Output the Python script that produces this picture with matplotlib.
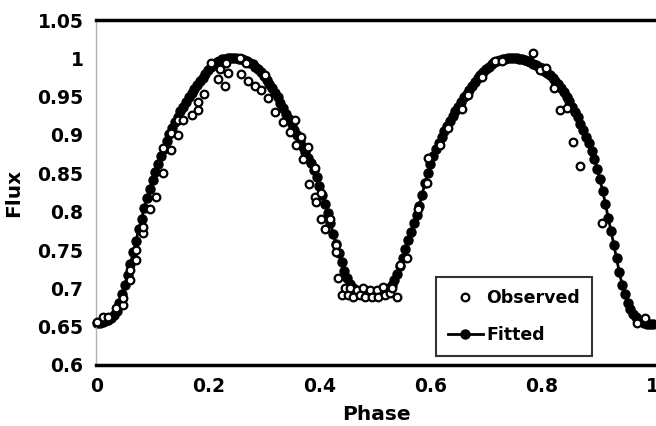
import numpy as np
import matplotlib
matplotlib.use("Agg")
import matplotlib.pyplot as plt

# fitted light curve, phase step 0.005 from 0 to 1
fit_step = 0.005
fit_flux = [
    0.655, 0.655, 0.656, 0.657, 0.659, 0.661, 0.665, 0.671, 0.681, 0.692,
    0.705, 0.718, 0.732, 0.747, 0.762, 0.777, 0.791, 0.805, 0.818, 0.830,
    0.841, 0.852, 0.862, 0.872, 0.882, 0.892, 0.901, 0.909, 0.917, 0.924,
    0.931, 0.937, 0.943, 0.949, 0.955, 0.960, 0.965, 0.970, 0.975, 0.980,
    0.985, 0.989, 0.993, 0.995, 0.997, 0.9985, 0.9995, 1.000, 1.000, 1.000,
    1.000, 0.9995, 0.999, 0.998, 0.996, 0.994, 0.992, 0.989, 0.986, 0.982,
    0.977, 0.972, 0.967, 0.961, 0.955, 0.949, 0.942, 0.935, 0.928, 0.921,
    0.914, 0.907, 0.900, 0.892, 0.885, 0.878, 0.870, 0.863, 0.855, 0.845,
    0.834, 0.822, 0.810, 0.798, 0.785, 0.771, 0.758, 0.746, 0.734, 0.722,
    0.713, 0.706, 0.701, 0.698, 0.696, 0.695, 0.694, 0.694, 0.694, 0.694,
    0.694, 0.694, 0.695, 0.696, 0.698, 0.701, 0.705, 0.711, 0.719, 0.729,
    0.740, 0.751, 0.763, 0.774, 0.785, 0.796, 0.808, 0.822, 0.837, 0.850,
    0.862, 0.872, 0.882, 0.890, 0.898, 0.905, 0.912, 0.918, 0.925, 0.931,
    0.937, 0.943, 0.949, 0.954, 0.959, 0.964, 0.969, 0.974, 0.978, 0.982,
    0.986, 0.989, 0.992, 0.995, 0.997, 0.998, 0.999, 0.9995, 1.000, 1.000,
    1.000, 1.000, 0.9995, 0.999, 0.998, 0.997, 0.995, 0.993, 0.991, 0.989,
    0.987, 0.984, 0.981, 0.978, 0.975, 0.971, 0.966, 0.961, 0.956, 0.950,
    0.944, 0.937, 0.930, 0.923, 0.915, 0.907, 0.898, 0.889, 0.879, 0.869,
    0.856, 0.842, 0.827, 0.810, 0.792, 0.775, 0.757, 0.739, 0.721, 0.705,
    0.692, 0.681, 0.673, 0.667, 0.662, 0.659, 0.657, 0.655, 0.654, 0.654,
    0.654,
]
fit_phase = np.arange(len(fit_flux)) * fit_step

obs_phase = [
    0.000, 0.011, 0.020, 0.0345, 0.0465, 0.0465, 0.0585, 0.0585, 0.0705, 0.0705,
    0.0825, 0.0825, 0.0945, 0.1065, 0.1185, 0.1185, 0.1335, 0.1335, 0.1455, 0.1455,
    0.155, 0.170, 0.181, 0.181, 0.193, 0.2055, 0.218, 0.2205, 0.2295, 0.2325,
    0.2355, 0.2565, 0.2595, 0.2685, 0.2715, 0.2835, 0.2955, 0.3015, 0.3075, 0.3205,
    0.334, 0.3465, 0.3555, 0.3585, 0.3675, 0.3705, 0.3795, 0.382, 0.3915, 0.3915,
    0.3945, 0.4035, 0.4035, 0.4095, 0.4185, 0.4305, 0.4305, 0.4335, 0.440, 0.4455,
    0.452, 0.4545, 0.461, 0.467, 0.4725, 0.4785, 0.4815, 0.491, 0.494, 0.503,
    0.5055, 0.5145, 0.518, 0.527, 0.530, 0.539, 0.545, 0.557, 0.578, 0.593,
    0.596, 0.617, 0.632, 0.656, 0.668, 0.692, 0.716, 0.728, 0.784, 0.7965,
    0.808, 0.8215, 0.8325, 0.845, 0.857, 0.870, 0.909, 0.971, 0.9855,
]
obs_flux = [
    0.6565, 0.663, 0.663, 0.674, 0.678, 0.687, 0.711, 0.724, 0.737, 0.750,
    0.772, 0.780, 0.803, 0.8195, 0.850, 0.8825, 0.880, 0.902, 0.900, 0.9196,
    0.9196, 0.926, 0.9326, 0.9435, 0.954, 0.9935, 0.973, 0.986, 0.964, 0.9935,
    0.9805, 1.000, 0.980, 0.9935, 0.971, 0.964, 0.9585, 0.978, 0.948, 0.930,
    0.9175, 0.9035, 0.9196, 0.887, 0.898, 0.869, 0.885, 0.836, 0.8565, 0.8195,
    0.813, 0.824, 0.790, 0.778, 0.790, 0.7565, 0.748, 0.713, 0.691, 0.700,
    0.691, 0.700, 0.689, 0.698, 0.691, 0.700, 0.689, 0.698, 0.689, 0.698,
    0.689, 0.702, 0.691, 0.6935, 0.700, 0.689, 0.730, 0.739, 0.804, 0.837,
    0.8695, 0.887, 0.909, 0.9335, 0.952, 0.9755, 0.997, 0.997, 1.0075, 0.9845,
    0.987, 0.9615, 0.932, 0.9355, 0.8905, 0.859, 0.785, 0.6545, 0.661,
]

x_ticks = [0, 0.2, 0.4, 0.6, 0.8, 1.0]
x_labels = ["0", "0.2", "0.4", "0.6", "0.8", "1"]
y_ticks = [0.6, 0.65, 0.7, 0.75, 0.8, 0.85, 0.9, 0.95, 1.0, 1.05]
y_labels = ["0.6", "0.65", "0.7", "0.75", "0.8", "0.85", "0.9", "0.95", "1", "1.05"]

plt.rcParams["font.family"] = "DejaVu Sans"
plt.rcParams["font.weight"] = "bold"

fig = plt.figure(figsize=(6.56, 4.26), dpi=100)
ax = fig.add_axes([96 / 656, 1 - 365 / 426, 560 / 656, 345 / 426])

ax.plot(fit_phase, fit_flux, color="black", lw=2, marker="o", markersize=6.5,
        markerfacecolor="black", markeredgecolor="black", clip_on=False,
        label="Fitted", zorder=2)
ax.plot(obs_phase, obs_flux, linestyle="none", marker="o", markersize=5.5,
        markerfacecolor="white", markeredgecolor="black", markeredgewidth=1.6,
        clip_on=False, label="Observed", zorder=3)

ax.set_xlim(-0.002, 1.006)
ax.set_ylim(0.6, 1.05)
ax.set_xticks(x_ticks)
ax.set_xticklabels(x_labels)
ax.set_yticks(y_ticks)
ax.set_yticklabels(y_labels)
ax.tick_params(axis="both", length=0, labelsize=13.5, pad=9)
for lab in ax.get_xticklabels() + ax.get_yticklabels():
    lab.set_fontweight("bold")

ax.spines["right"].set_visible(False)
ax.spines["top"].set_linewidth(2.5)
ax.spines["bottom"].set_linewidth(2.5)
ax.spines["left"].set_color("#b0b0b0")
ax.spines["left"].set_linewidth(1)

ax.set_xlabel("Phase", fontsize=14.5, fontweight="bold", labelpad=6)
ax.set_ylabel("Flux", fontsize=14.5, fontweight="bold", labelpad=10)

handles, labels = ax.get_legend_handles_labels()
leg = ax.legend(handles[::-1], labels[::-1], loc="lower left",
                bbox_to_anchor=(0.607, 0.025), frameon=True, fancybox=False,
                edgecolor="black", prop={"size": 12.5, "weight": "bold"},
                labelspacing=1.1, handlelength=2.0, handletextpad=0.2,
                borderpad=0.7, borderaxespad=0)
leg.get_frame().set_linewidth(1.5)

fig.savefig("out.png", dpi=100, facecolor="white")
